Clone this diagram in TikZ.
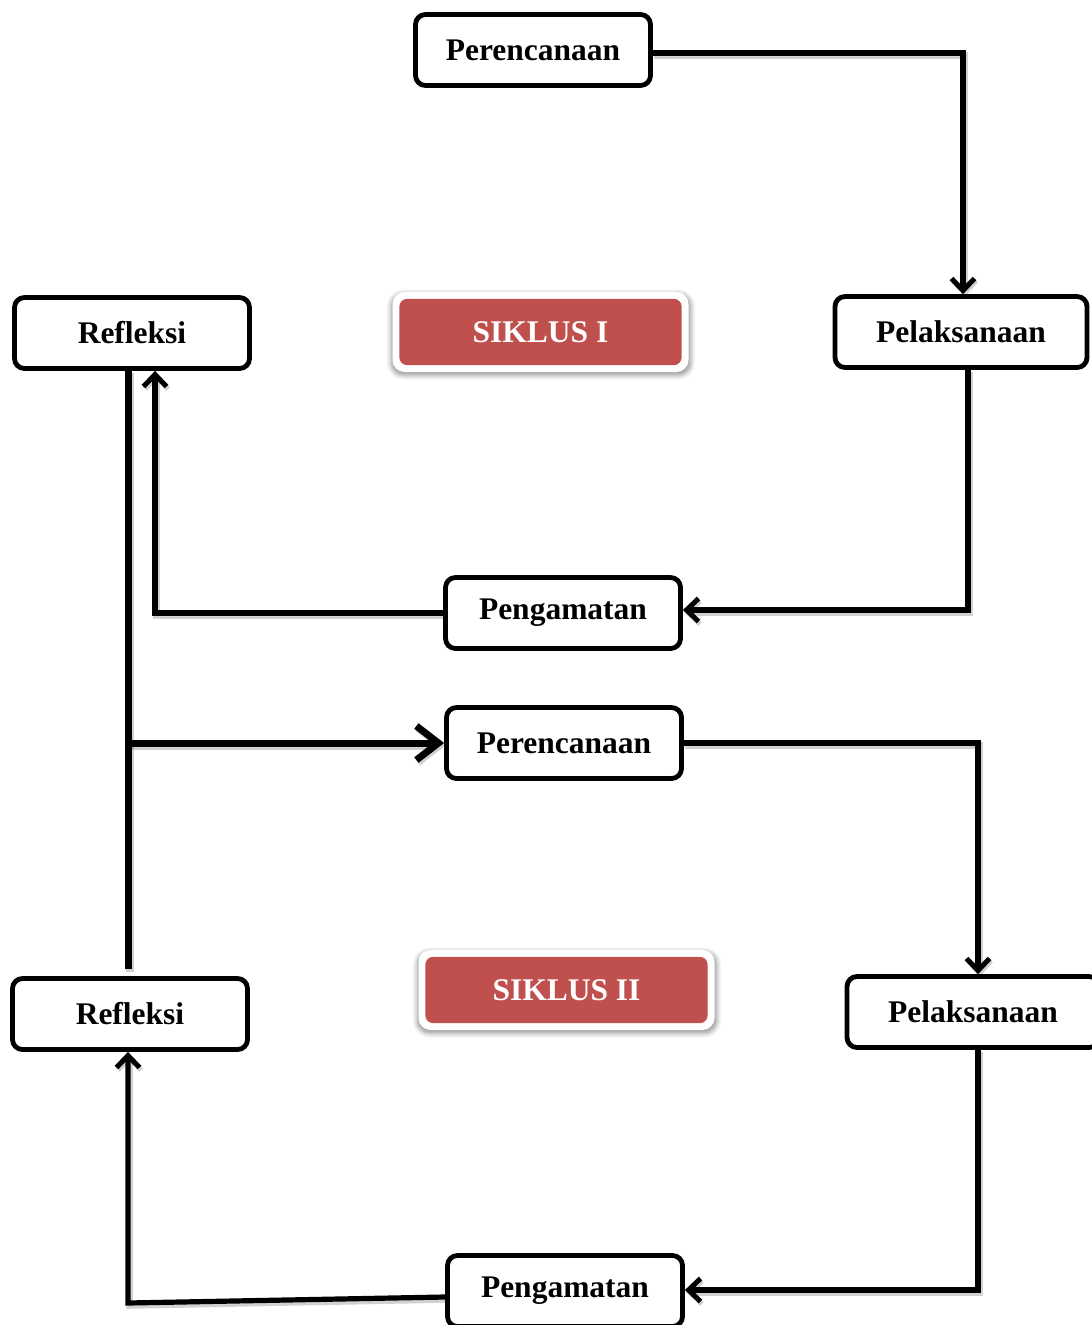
\documentclass[tikz,border=0pt]{standalone}
\usepackage{fontspec}
\setmainfont{Liberation Serif}
\usetikzlibrary{arrows.meta,shadows.blur}
\definecolor{siklusred}{HTML}{C0504D}
\begin{document}
\begin{tikzpicture}[x=1pt,y=-1pt,
  stepbox/.style={draw=black,line width=4.8pt,rounded corners=10pt,fill=white,
    minimum width=235pt,minimum height=71pt,inner sep=0pt,
    font=\fontsize{31.5}{36}\selectfont\bfseries},
  widebox/.style={stepbox,minimum width=252pt},
  sikframe/.style={fill=white,draw=none,rounded corners=12pt,
    minimum width=296pt,minimum height=80pt,inner sep=0pt,
    blur shadow={shadow xshift=0.5pt,shadow yshift=-2.5pt,shadow scale=1.01,
      shadow blur radius=5pt,shadow blur steps=8,shadow opacity=45}},
  sikfill/.style={fill=siklusred,rounded corners=8pt},
  siktext/.style={text=white,inner sep=0pt,font=\fontsize{31.5}{36}\selectfont\bfseries},
  lineshadow/.style={preaction={draw=black,opacity=0.18,line width=#1,
      transform canvas={shift={(1.5pt,-2.5pt)}}}},
  conn/.style={line width=5.2pt,line join=miter,lineshadow=6.5pt,
    -{Straight Barb[length=12pt,width=23pt,line width=5pt]}},
  thickline/.style={line width=7pt,lineshadow=8pt},
  thickconn/.style={line width=7pt,lineshadow=8pt,-{Straight Barb[length=22pt,width=34pt,line width=7pt]}}
]
\useasboundingbox (0,0) rectangle (1092,1325);

\coordinate (j) at (128,743);
\coordinate (c2) at (128,1303);

% cycle I nodes
\node[stepbox] (per1) at (533,50) {Perencanaan};
\node[stepbox] (ref1) at (132,333) {Refleksi};
\node[widebox] (pel1) at (961,332) {Pelaksanaan};
\node[stepbox] (pen1) at (563,613) {Pengamatan};
\node[sikframe] (sik1) at (540.5,332) {};
\fill[sikfill] ([shift={(7,7)}]sik1.north west) rectangle ([shift={(-7,-7)}]sik1.south east);
\node[siktext] (sik1t) at (sik1.center) {SIKLUS I};

% cycle II nodes
\node[stepbox] (per2) at (564,743) {Perencanaan};
\node[stepbox] (ref2) at (130,1014) {Refleksi};
\node[widebox] (pel2) at (973,1012) {Pelaksanaan};
\node[stepbox] (pen2) at (565,1291) {Pengamatan};
\node[sikframe] (sik2) at (566.5,990) {};
\fill[sikfill] ([shift={(7,7)}]sik2.north west) rectangle ([shift={(-7,-7)}]sik2.south east);
\node[siktext] (sik2t) at (sik2.center) {SIKLUS II};

% cycle I connectors
\draw[conn] ([yshift=-3pt]per1.east) -| ([xshift=2pt]pel1.north);
\draw[conn] ([xshift=7pt]pel1.south) |- ([yshift=3pt]pen1.east);
\draw[conn] (pen1.west) -| ([xshift=23pt]ref1.south);

% vertical thick line and branch to the second cycle
\draw[thickline] ([xshift=-4pt]ref1.south) -- ([xshift=-2pt,yshift=7pt]ref2.north);
\draw[thickconn] (j) -- (per2.west);

% cycle II connectors
\draw[conn] (per2.east) -- ([xshift=5pt]per2.east -| pel2.north) -- ([xshift=5pt]pel2.north);
\draw[conn] ([xshift=5pt]pel2.south) |- ([yshift=1pt]pen2.east);
\draw[conn] ([yshift=-6pt]pen2.west) -- (c2) -- (c2 |- ref2.south);
\end{tikzpicture}
\end{document}
